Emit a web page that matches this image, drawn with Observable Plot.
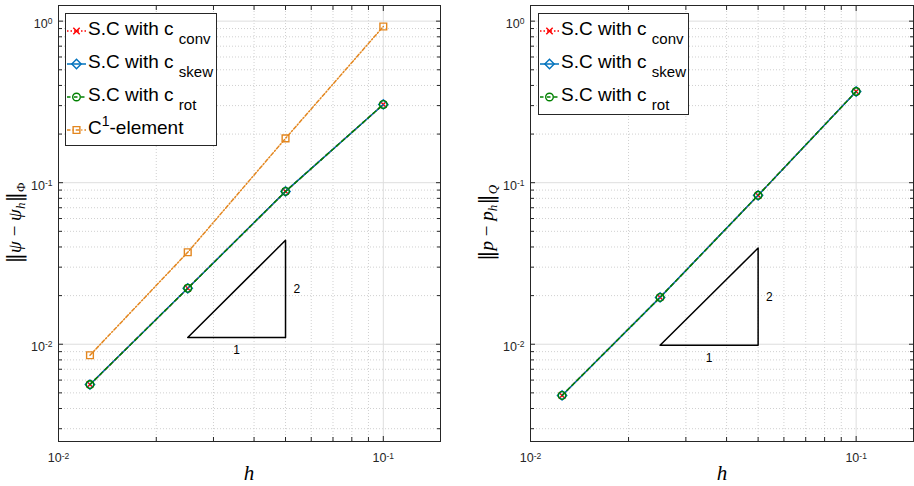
<!DOCTYPE html>
<html>
<head>
<meta charset="utf-8">
<script src="https://cdn.jsdelivr.net/npm/d3@7"></script>
<script src="https://cdn.jsdelivr.net/npm/@observablehq/plot@0.6"></script>
<style>
  body { margin: 0; background: #fff; }
  #wrap { position: relative; width: 914px; height: 486px; display: flex; }
  #wrap svg.plot { display: block; }
  #overlay { position: absolute; left: 0; top: 0; pointer-events: none; }
</style>
</head>
<body>
<div id="wrap"></div>
<script>
// ---- data ----
const h = [0.0125, 0.025, 0.05, 0.1];
// left panel: ||psi - psi_h||_Phi
const psiConv = [0.00563, 0.0222, 0.0883, 0.305];
const psiSkew = [0.00563, 0.0222, 0.0883, 0.305];
const psiRot  = [0.00563, 0.0222, 0.0883, 0.305];
const psiC1   = [0.00855, 0.0371, 0.188, 0.927];
// right panel: ||p - p_h||_Q
const pConv = [0.00482, 0.0195, 0.0835, 0.367];
const pSkew = [0.00482, 0.0195, 0.0835, 0.367];
const pRot  = [0.00482, 0.0195, 0.0835, 0.367];
// slope triangles
const triH   = [0.025, 0.05, 0.05, 0.025];
const triPsi = [0.011, 0.011, 0.044, 0.011];
const triP   = [0.00985, 0.00985, 0.0394, 0.00985];
// ticks
const xTickValues = [0.01, 0.1];
const yTickValues = [0.01, 0.1, 1];
const xDomain = [0.01, 0.15];
const yDomain = [0.0025, 1.25];

const seriesStyle = {
  conv: {stroke: "#ff0000", dash: "1.5,2", symbol: "times", r: 3},
  skew: {stroke: "#0072bd", dash: null, symbol: "diamond2", r: 4.2},
  rot:  {stroke: "#008000", dash: "3.5,3.5", symbol: "circle", r: 3.8},
  c1:   {stroke: "#e3861e", dash: "3.5,2,1.2,2", symbol: "square2", r: 4.3}
};

const isDecade = v => Math.abs(Math.log10(v) - Math.round(Math.log10(v))) < 1e-6;
const xMinor = d3.scaleLog().domain(xDomain).ticks().filter(v => !isDecade(v));
const yMinor = d3.scaleLog().domain(yDomain).ticks().filter(v => !isDecade(v));
const fmt = d => "10^" + Math.round(Math.log10(d));

function seriesMarks(vals, st) {
  return [
    Plot.line(vals, {x: (d, i) => h[i], y: d => d, stroke: st.stroke, strokeWidth: 1.5,
      strokeDasharray: st.dash}),
    Plot.dot(vals, {x: (d, i) => h[i], y: d => d, stroke: st.stroke, fill: "none",
      symbol: st.symbol, r: st.r, strokeWidth: 1.4})
  ];
}

function panel({series, tri, width, marginLeft, marginRight}) {
  const axisColor = "#262626";
  const marks = [
    Plot.gridX(xMinor, {stroke: "#d0d0d0", strokeOpacity: 1, strokeDasharray: "1,2"}),
    Plot.gridY(yMinor, {stroke: "#d0d0d0", strokeOpacity: 1, strokeDasharray: "1,2"}),
    Plot.gridX(xTickValues, {stroke: "#dedede", strokeOpacity: 1}),
    Plot.gridY(yTickValues, {stroke: "#dedede", strokeOpacity: 1}),
  ];
  for (const [vals, st] of series) marks.push(...seriesMarks(vals, st));
  marks.push(
    Plot.line(tri.h, {x: d => d, y: (d, i) => tri.y[i], stroke: "#000", strokeWidth: 1.5}),
    Plot.text(["1"], {x: () => Math.sqrt(tri.h[0] * tri.h[1]), y: () => tri.y[0], dy: 13,
      fontSize: 12, fill: "#000"}),
    Plot.text(["2"], {x: () => tri.h[1], y: () => Math.sqrt(tri.y[1] * tri.y[2]), dx: 8,
      textAnchor: "start", fontSize: 12, fill: "#000"}),
    Plot.frame({stroke: axisColor, strokeWidth: 1}),
    // inward ticks
    ...["bottom", "top"].flatMap(a => [
      Plot.axisX(xMinor, {anchor: a, tickSize: -4, tickFormat: () => "", label: null, stroke: axisColor}),
      Plot.axisX(xTickValues, {anchor: a, tickSize: -5, tickFormat: () => "", label: null, stroke: axisColor})
    ]),
    ...["left", "right"].flatMap(a => [
      Plot.axisY(yMinor, {anchor: a, tickSize: -4, tickFormat: () => "", label: null, stroke: axisColor}),
      Plot.axisY(yTickValues, {anchor: a, tickSize: -5, tickFormat: () => "", label: null, stroke: axisColor})
    ]),
    Plot.axisX(xTickValues, {anchor: "bottom", tickSize: 0, tickPadding: 12, tickFormat: fmt,
      label: null, fontSize: 12.5, fill: axisColor}),
    Plot.axisY(yTickValues, {anchor: "left", tickSize: 0, tickPadding: 6, tickFormat: fmt,
      label: null, fontSize: 12.5, fill: axisColor, dy: 3})
  );
  const svg = Plot.plot({
    width, height: 486,
    marginTop: 5, marginBottom: 45, marginLeft, marginRight,
    style: {fontFamily: "'Liberation Sans', Arial, sans-serif", fontSize: "12px", background: "white"},
    x: {type: "log", domain: xDomain},
    y: {type: "log", domain: yDomain},
    marks
  });
  svg.classList.add("plot");
  const ns = "http://www.w3.org/2000/svg";
  svg.querySelectorAll("text").forEach(t => {
    const m = t.textContent.match(/^10\^(.+)$/);
    if (m) {
      t.textContent = "10";
      const ts = document.createElementNS(ns, "tspan");
      ts.setAttribute("dy", "-0.45em");
      ts.setAttribute("font-size", "0.68em");
      ts.textContent = m[1];
      t.appendChild(ts);
    }
  });
  return svg;
}

const wrap = document.getElementById("wrap");
wrap.appendChild(panel({
  series: [[psiConv, seriesStyle.conv], [psiSkew, seriesStyle.skew], [psiRot, seriesStyle.rot], [psiC1, seriesStyle.c1]],
  tri: {h: triH, y: triPsi}, width: 457, marginLeft: 58, marginRight: 17
}));
wrap.appendChild(panel({
  series: [[pConv, seriesStyle.conv], [pSkew, seriesStyle.skew], [pRot, seriesStyle.rot]],
  tri: {h: triH, y: triP}, width: 457, marginLeft: 73, marginRight: 1
}));

// ---- overlay: legends and axis titles ----
const ov = d3.select("#wrap").append("svg").attr("id", "overlay").attr("width", 914).attr("height", 486)
  .style("font-family", "'Liberation Sans', Arial, sans-serif");

const legendEntries = [
  {key: "conv", main: "S.C with c ", sub: "conv"},
  {key: "skew", main: "S.C with c ", sub: "skew"},
  {key: "rot",  main: "S.C with c ", sub: "rot"},
  {key: "c1",   main: "C", sup: "1", rest: "-element"}
];

function legend(x, y, w, hgt, entries) {
  const g = ov.append("g").attr("transform", `translate(${x},${y})`);
  g.append("rect").attr("x", 0.5).attr("y", 0.5).attr("width", w).attr("height", hgt)
    .attr("fill", "white").attr("stroke", "#262626").attr("stroke-width", 1);
  entries.forEach((e, i) => {
    const st = seriesStyle[e.key];
    const cy = 18 + 33 * i;
    g.append("line").attr("x1", 2).attr("x2", 21).attr("y1", cy).attr("y2", cy)
      .attr("stroke", st.stroke).attr("stroke-width", 1.5).attr("stroke-dasharray", st.dash);
    const symMap = {times: d3.symbolTimes, diamond2: d3.symbolDiamond2, circle: d3.symbolCircle, square2: d3.symbolSquare2};
    g.append("path").attr("d", d3.symbol(symMap[st.symbol], Math.PI * st.r * st.r)())
      .attr("transform", `translate(11.5,${cy})`).attr("fill", "none")
      .attr("stroke", st.stroke).attr("stroke-width", 1.4);
    const t = g.append("text").attr("x", 23).attr("y", cy + 4).attr("font-size", 19).attr("fill", "#000");
    if (e.sub) {
      t.append("tspan").text(e.main);
      t.append("tspan").attr("dy", 9).attr("font-size", 15).text(e.sub);
    } else {
      t.append("tspan").text(e.main);
      t.append("tspan").attr("dy", -8).attr("font-size", 14).text(e.sup);
      t.append("tspan").attr("dy", 8).text(e.rest);
    }
  });
}
legend(65, 13, 151, 132, legendEntries);
legend(538, 13, 150, 101, legendEntries.slice(0, 3));

// axis titles
function xTitle(cx) {
  ov.append("text").attr("x", cx).attr("y", 480).attr("text-anchor", "middle")
    .attr("font-family", "'Liberation Serif', serif").attr("font-style", "italic").attr("font-size", 21).text("h");
}
xTitle(249); xTitle(722);

function yTitle(cx, cy, parts) {
  const t = ov.append("text").attr("transform", `translate(${cx},${cy}) rotate(-90)`)
    .attr("text-anchor", "middle").attr("font-family", "'Liberation Serif', serif").attr("font-size", 19);
  parts.forEach(p => {
    const ts = t.append("tspan").text(p.t);
    if (p.it) ts.attr("font-style", "italic");
    if (p.dy) ts.attr("dy", p.dy);
    if (p.fs) ts.attr("font-size", p.fs);
    if (p.ff) ts.attr("font-family", p.ff);
  });
}
const bar = "'DejaVu Serif', serif";
yTitle(21, 223, [
  {t: "\u2016", ff: bar, fs: 21}, {t: "\u03C8", it: true}, {t: " \u2212 "}, {t: "\u03C8", it: true},
  {t: "h", it: true, dy: 4, fs: 13}, {t: "\u2016", dy: -4, ff: bar, fs: 21}, {t: "\u03A6", dy: 4, fs: 13}
]);
yTitle(493, 223, [
  {t: "\u2016", ff: bar, fs: 21}, {t: "p", it: true}, {t: " \u2212 "}, {t: "p", it: true},
  {t: "h", it: true, dy: 4, fs: 13}, {t: "\u2016", dy: -4, ff: bar, fs: 21}, {t: "Q", it: true, dy: 4, fs: 13}
]);
</script>
</body>
</html>
